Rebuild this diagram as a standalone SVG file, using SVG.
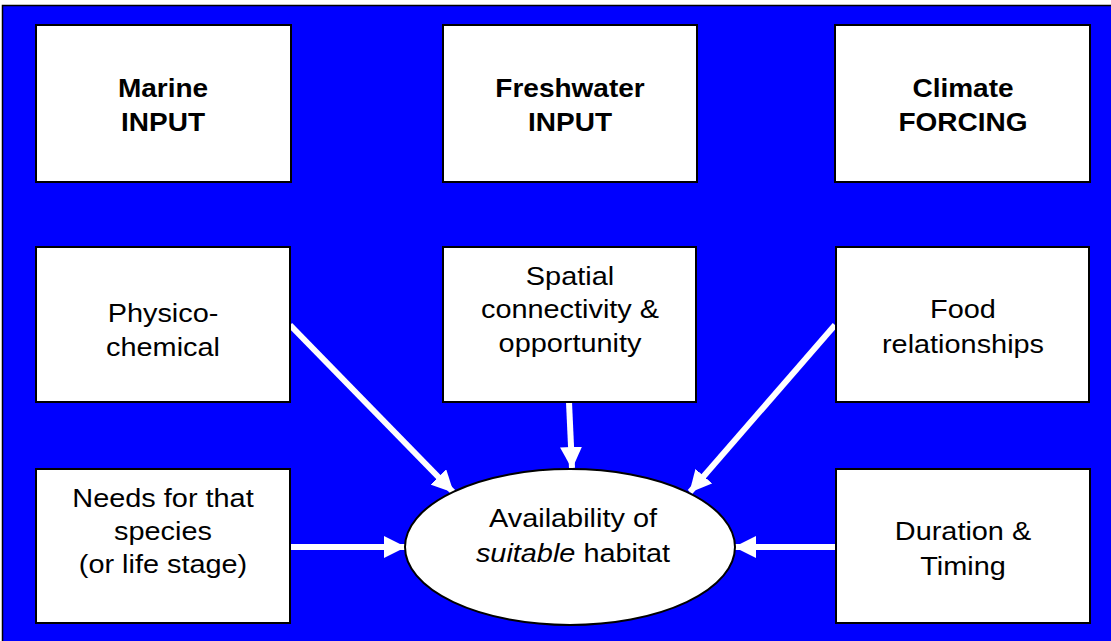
<svg xmlns="http://www.w3.org/2000/svg" width="1111" height="641" viewBox="0 0 1111 641">
  <defs>
    <style>
      .box { fill: #ffffff; stroke: #000000; stroke-width: 2; }
      .hdr { font-family: "Liberation Sans", Arial, sans-serif; font-weight: bold; font-size: 25px; fill: #000; text-anchor: middle; }
      .lbl { font-family: "Liberation Sans", Arial, sans-serif; font-size: 26.5px; fill: #000; text-anchor: middle; }
      .arrow { stroke: #ffffff; stroke-width: 6; fill: none; marker-end: url(#head); }
    </style>
    <marker id="head" viewBox="0 0 22 22" refX="21" refY="11" markerWidth="22" markerHeight="22" markerUnits="userSpaceOnUse" orient="auto">
      <path d="M0,0 L22,11 L0,22 z" fill="#ffffff"/>
    </marker>
  </defs>

  <!-- background panel -->
  <rect x="2.5" y="5.5" width="1110" height="637" fill="#0000ff" stroke="#000000" stroke-width="1.5"/>

  <!-- connectors -->
  <g id="connectors">
    <line class="arrow" x1="290" y1="325" x2="453" y2="492"/>
    <line class="arrow" x1="835" y1="325" x2="690" y2="492"/>
    <line class="arrow" x1="569" y1="402" x2="572" y2="468"/>
    <line class="arrow" x1="290" y1="547" x2="405" y2="547"/>
    <line class="arrow" x1="836" y1="547" x2="735" y2="547"/>
  </g>

  <!-- top row -->
  <g id="marine-input">
    <rect class="box" x="36" y="25" width="255" height="157"/>
    <g transform="translate(163,0) scale(1.12,1)">
      <text class="hdr" x="0" y="97">Marine</text>
      <text class="hdr" x="0" y="131">INPUT</text>
    </g>
  </g>
  <g id="freshwater-input">
    <rect class="box" x="443" y="25" width="254" height="157"/>
    <g transform="translate(570,0) scale(1.12,1)">
      <text class="hdr" x="0" y="97">Freshwater</text>
      <text class="hdr" x="0" y="131">INPUT</text>
    </g>
  </g>
  <g id="climate-forcing">
    <rect class="box" x="835" y="25" width="255" height="157"/>
    <g transform="translate(963,0) scale(1.12,1)">
      <text class="hdr" x="0" y="97">Climate</text>
      <text class="hdr" x="0" y="131">FORCING</text>
    </g>
  </g>

  <!-- middle row -->
  <g id="physico-chemical">
    <rect class="box" x="36" y="247" width="254" height="155"/>
    <g transform="translate(163,0) scale(1.09,1)">
      <text class="lbl" x="0" y="322">Physico-</text>
      <text class="lbl" x="0" y="356">chemical</text>
    </g>
  </g>
  <g id="spatial-connectivity">
    <rect class="box" x="443" y="247" width="253" height="155"/>
    <g transform="translate(570,0) scale(1.09,1)">
      <text class="lbl" x="0" y="285">Spatial</text>
      <text class="lbl" x="0" y="318">connectivity &amp;</text>
      <text class="lbl" x="0" y="352">opportunity</text>
    </g>
  </g>
  <g id="food-relationships">
    <rect class="box" x="836" y="247" width="253" height="155"/>
    <g transform="translate(963,0) scale(1.09,1)">
      <text class="lbl" x="0" y="318">Food</text>
      <text class="lbl" x="0" y="353">relationships</text>
    </g>
  </g>

  <!-- bottom row -->
  <g id="species-needs">
    <rect class="box" x="36" y="469" width="254" height="154"/>
    <g transform="translate(163,0) scale(1.09,1)">
      <text class="lbl" x="0" y="507">Needs for that</text>
      <text class="lbl" x="0" y="540">species</text>
      <text class="lbl" x="0" y="573">(or life stage)</text>
    </g>
  </g>
  <g id="suitable-habitat">
    <ellipse cx="570" cy="547" rx="165" ry="78" fill="#ffffff" stroke="#000000" stroke-width="2"/>
    <g transform="translate(573,0) scale(1.09,1)">
      <text class="lbl" x="0" y="527">Availability of</text>
      <text class="lbl" x="0" y="562"><tspan font-style="italic">suitable</tspan> habitat</text>
    </g>
  </g>
  <g id="duration-timing">
    <rect class="box" x="836" y="469" width="254" height="154"/>
    <g transform="translate(963,0) scale(1.09,1)">
      <text class="lbl" x="0" y="540">Duration &amp;</text>
      <text class="lbl" x="0" y="575">Timing</text>
    </g>
  </g>
</svg>
